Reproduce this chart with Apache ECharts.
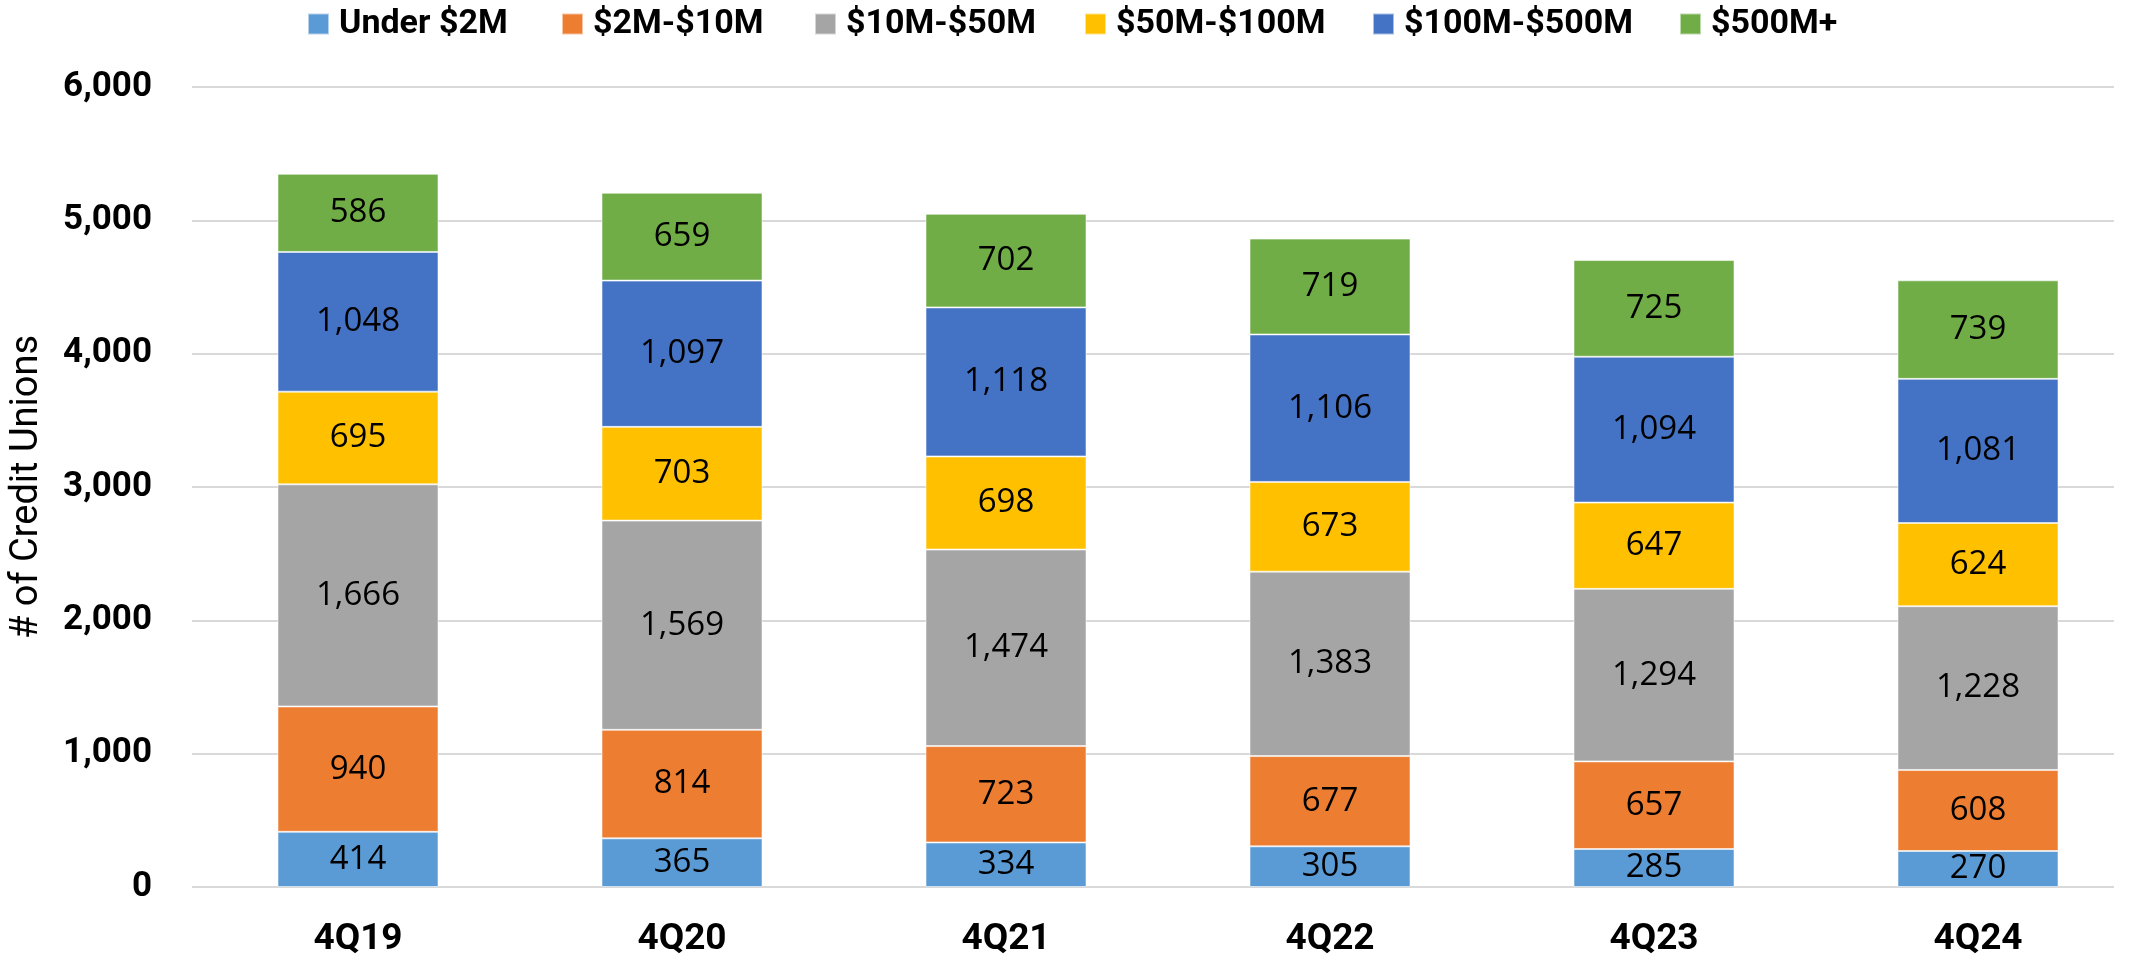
<!DOCTYPE html>
<html>
<head>
<meta charset="utf-8">
<script src="https://cdn.jsdelivr.net/npm/echarts@6/dist/echarts.min.js"></script>
<style>
  html, body { margin: 0; padding: 0; background: #fff; }
  #chart { width: 2141px; height: 961px; }
</style>
</head>
<body>
<div id="chart"></div>
<script>
const quarters = ["4Q19", "4Q20", "4Q21", "4Q22", "4Q23", "4Q24"];
const under2M = [414, 365, 334, 305, 285, 270];
const from2to10M = [940, 814, 723, 677, 657, 608];
const from10to50M = [1666, 1569, 1474, 1383, 1294, 1228];
const from50to100M = [695, 703, 698, 673, 647, 624];
const from100to500M = [1048, 1097, 1118, 1106, 1094, 1081];
const over500M = [586, 659, 702, 719, 725, 739];
const yTicks = [0, 1000, 2000, 3000, 4000, 5000, 6000];

const seriesNames = ["Under $2M", "$2M-$10M", "$10M-$50M", "$50M-$100M", "$100M-$500M", "$500M+"];
const seriesData = [under2M, from2to10M, from10to50M, from50to100M, from100to500M, over500M];
const colors = ["#5B9BD5", "#ED7D31", "#A5A5A5", "#FFC000", "#4472C4", "#70AD47"];
const legendLeft = [307, 561, 814, 1084, 1372, 1679];

const fmt = v => Number(v).toLocaleString("en-US");

const myChart = echarts.init(document.getElementById("chart"));

const options = {
  animation: false,
  color: colors,
  legend: seriesNames.map((name, i) => ({
    data: [name],
    left: legendLeft[i],
    top: 7,
    padding: 0,
    itemWidth: 21,
    itemHeight: 21,
    itemGap: 0,
    icon: "rect",
    textStyle: {
      fontFamily: "Roboto",
      fontWeight: "bold",
      fontSize: 34,
      color: "#000",
      padding: [0, 0, 0, 5],
    },
  })),
  grid: [
    { left: 191, right: 1, top: 87, bottom: 74 },
    { left: 192, right: 27, top: 87, bottom: 74 },
  ],
  xAxis: [
    {
      type: "category",
      gridIndex: 0,
      data: quarters,
      axisLine: { show: false },
      axisTick: { show: false },
      axisLabel: {
        margin: 34,
        fontFamily: "Roboto",
        fontWeight: "bold",
        fontSize: 37,
        color: "#000",
      },
    },
    {
      type: "category",
      gridIndex: 1,
      data: quarters,
      show: false,
    },
  ],
  yAxis: [
    {
      type: "value",
      gridIndex: 0,
      min: yTicks[0],
      max: yTicks[yTicks.length - 1],
      interval: 1000,
      name: "# of Credit Unions",
      nameLocation: "middle",
      nameGap: 150,
      nameTextStyle: {
        fontFamily: "Roboto",
        fontSize: 38,
        color: "#000",
      },
      splitLine: { show: false },
      axisLine: { show: false },
      axisTick: { show: false },
      axisLabel: {
        margin: 44,
        fontFamily: "Roboto",
        fontWeight: "bold",
        fontSize: 35,
        color: "#000",
        formatter: v => fmt(v),
      },
    },
    {
      type: "value",
      gridIndex: 1,
      min: yTicks[0],
      max: yTicks[yTicks.length - 1],
      interval: 1000,
      axisLine: { show: false },
      axisTick: { show: false },
      axisLabel: { show: false },
      splitLine: { lineStyle: { color: "#d9d9d9", width: 2 } },
    },
  ],
  series: seriesNames.map((name, i) => ({
    name: name,
    type: "bar",
    stack: "total",
    xAxisIndex: 0,
    yAxisIndex: 0,
    barWidth: 161,
    data: seriesData[i],
    itemStyle: {
      color: colors[i],
      borderColor: "rgba(255,255,255,0.55)",
      borderWidth: 1,
    },
    label: {
      show: true,
      position: "inside",
      fontFamily: "Open Sans",
      fontSize: 33,
      color: "#000",
      formatter: p => fmt(p.value),
    },
  })),
};

myChart.setOption(options);
</script>
</body>
</html>
